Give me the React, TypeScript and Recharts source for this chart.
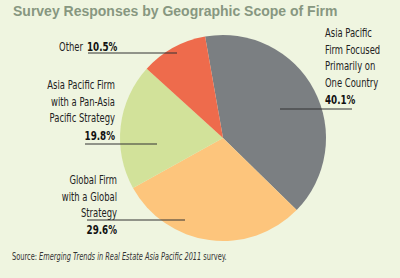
import React from 'react'
import { Cell, Pie, PieChart } from 'recharts'

// survey shares, clockwise from just left of 12 o'clock
const categories = [
  'Asia Pacific Firm Focused Primarily on One Country',
  'Global Firm with a Global Strategy',
  'Asia Pacific Firm with a Pan-Asia Pacific Strategy',
  'Other',
]
const shares = [40.1, 29.6, 19.8, 10.5]
const labelLines = [
  ['Asia Pacific', 'Firm Focused', 'Primarily on', 'One Country'],
  ['Global Firm', 'with a Global', 'Strategy'],
  ['Asia Pacific Firm', 'with a Pan-Asia', 'Pacific Strategy'],
  ['Other'],
]
const colors = ['#7b7f82', '#fdc57c', '#d2e29a', '#ee6b4c']

const data = categories.map((name, i) => ({ name, value: shares[i] }))

const narrow = '"DejaVu Sans Condensed", "DejaVu Sans", sans-serif'
const squeeze = 0.78

// where each callout sits (text x/anchor, first line y, leader line)
const callouts = [
  { x: 325, anchor: 'start', y: 37, pctY: 104, pctX: 325, pctAnchor: 'start', line: [280, 352, 109] },
  { x: 117, anchor: 'end', y: 184, pctY: 234, pctX: 117, pctAnchor: 'end', line: [87, 185, 220] },
  { x: 115, anchor: 'end', y: 89, pctY: 140, pctX: 115, pctAnchor: 'end', line: [85, 157, 144] },
  { x: 83, anchor: 'end', y: 51, pctY: 51, pctX: 87, pctAnchor: 'start', line: [88, 177, 53] },
]

const Narrow = ({ x, y, anchor, size, bold, children }: any) => (
  <text
    transform={`translate(${x} ${y}) scale(${squeeze} 1)`}
    textAnchor={anchor}
    fontFamily={narrow}
    fontSize={size}
    fontWeight={bold ? 'bold' : 'normal'}
    fill={bold ? '#111' : '#222'}
  >
    {children}
  </text>
)

const renderLabel = (props: any) => {
  const i = props.index
  const c = callouts[i]
  return (
    <g key={'lbl' + i}>
      {labelLines[i].map((t, k) => (
        <Narrow key={k} x={c.x} y={c.y + k * 16.5} anchor={c.anchor} size={12}>
          {t}
        </Narrow>
      ))}
      <Narrow x={c.pctX} y={c.pctY} anchor={c.pctAnchor} size={12.5} bold>
        {props.value.toFixed(1)}%
      </Narrow>
      <line x1={c.line[0]} x2={c.line[1]} y1={c.line[2]} y2={c.line[2]} stroke="#333" strokeWidth={1} />
    </g>
  )
}

const App = () => {
  return (
    <div style={{ position: 'absolute', left: 0, top: 0, width: 400, height: 278, background: '#eff5e0', overflow: 'hidden' }}>
      <div style={{ position: 'absolute', left: 13, top: 3, fontFamily: '"Liberation Sans", Arial, sans-serif', fontWeight: 'bold', fontSize: 14, color: '#879780', whiteSpace: 'nowrap' }}>
        Survey Responses by Geographic Scope of Firm
      </div>
      <PieChart width={400} height={278} style={{ position: 'absolute', left: 0, top: 0 }} margin={{ top: 0, right: 0, bottom: 0, left: 0 }}>
        <Pie
          data={data}
          dataKey="value"
          nameKey="name"
          cx={223}
          cy={138}
          outerRadius={103}
          startAngle={100}
          endAngle={-260}
          stroke="none"
          labelLine={false}
          label={renderLabel}
          isAnimationActive={false}
        >
          {data.map((d, i) => (
            <Cell key={d.name} fill={colors[i]} />
          ))}
        </Pie>
      </PieChart>
      <div style={{ position: 'absolute', left: 12, top: 250, fontFamily: narrow, fontSize: 10.5, color: '#333', whiteSpace: 'nowrap', transform: 'scaleX(0.7)', transformOrigin: 'left top' }}>
        Source: <i>Emerging Trends in Real Estate Asia Pacific 2011</i> survey.
      </div>
    </div>
  )
}

export default App
